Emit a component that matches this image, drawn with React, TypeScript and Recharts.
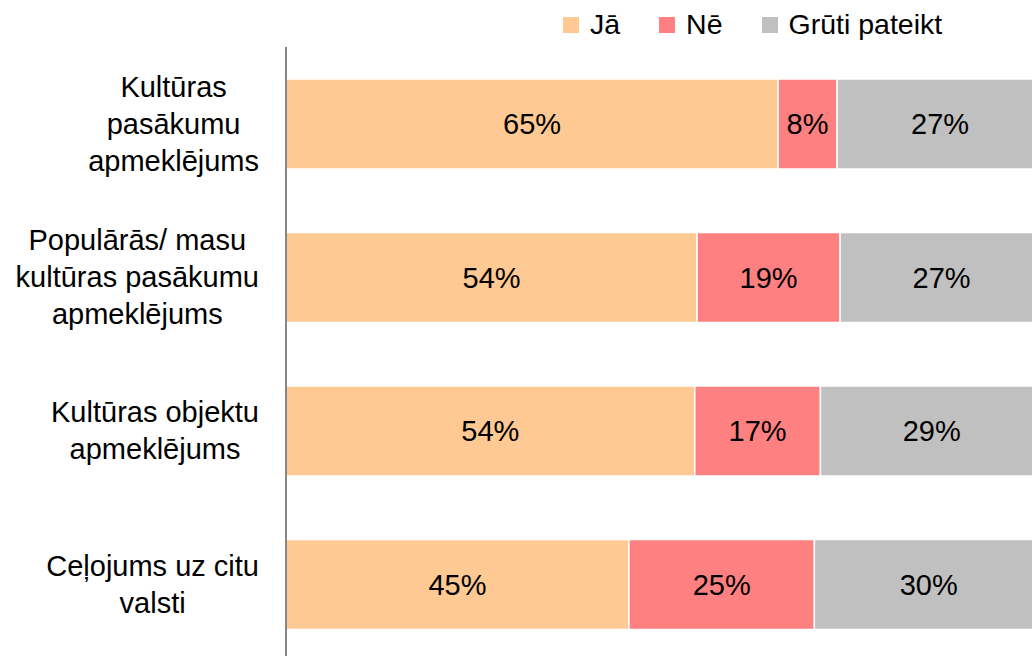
import { Bar, BarChart, LabelList, Legend, XAxis, YAxis } from 'recharts';

const FONT = '"Liberation Sans", Arial, sans-serif';
const COLORS = { yes: '#ffc993', no: '#ff8080', hard: '#c0c0c0' };

const categories = [
  ['Kultūras', 'pasākumu', 'apmeklējums'],
  ['Populārās/ masu', 'kultūras pasākumu', 'apmeklējums'],
  ['Kultūras objektu', 'apmeklējums'],
  ['Ceļojums uz citu', 'valsti'],
];
const seriesNames = ['Jā', 'Nē', 'Grūti pateikt'];
const yesValues = [65.0, 54.3, 54.0, 45.3];
const noValues = [7.8, 18.9, 16.6, 24.5];
const hardValues = [27.2, 26.8, 29.4, 30.2];

const data = categories.map((lines, i) => ({
  name: lines.join(' '),
  lines,
  yes: yesValues[i],
  no: noValues[i],
  hard: hardValues[i],
}));

let ctx: CanvasRenderingContext2D | null = null;
function textWidth(s: string) {
  if (!ctx) ctx = document.createElement('canvas').getContext('2d');
  if (!ctx) return s.length * 14;
  ctx.font = `29px ${FONT}`;
  return ctx.measureText(s).width;
}

function CategoryTick({ y, payload }: any) {
  const row = data.find((d) => d.name === payload.value);
  const lines = row ? row.lines : [String(payload.value)];
  const maxW = Math.max(...lines.map(textWidth));
  const cx = 259 - maxW / 2;
  const step = 37;
  const top = y - ((lines.length - 1) * step) / 2;
  return (
    <g>
      {lines.map((l, i) => (
        <text
          key={i}
          x={cx}
          y={top + i * step}
          textAnchor="middle"
          dominantBaseline="central"
          fontSize={29}
          fontFamily={FONT}
          fill="#000"
        >
          {l}
        </text>
      ))}
    </g>
  );
}

function LegendContent() {
  const cols = [COLORS.yes, COLORS.no, COLORS.hard];
  return (
    <div style={{ display: 'flex', alignItems: 'center', fontFamily: FONT, fontSize: 28.5, whiteSpace: 'nowrap' }}>
      {seriesNames.map((n, i) => (
        <div key={n} style={{ display: 'flex', alignItems: 'center', marginRight: 39 }}>
          <span style={{ display: 'inline-block', width: 16, height: 16, background: cols[i], marginRight: 11 }} />
          <span style={{ color: '#000' }}>{n}</span>
        </div>
      ))}
    </div>
  );
}

const pct = (v: any) => `${Math.round(Number(v))}%`;

export default function App() {
  return (
    <div style={{ position: 'fixed', left: 0, top: 0, width: 1032, height: 656, overflow: 'hidden', background: '#fff' }}>
      <BarChart
        width={1060}
        height={670}
        data={data}
        layout="vertical"
        margin={{ top: 47, right: 17, left: 0, bottom: 9 }}
        barSize={90}
      >
        <XAxis type="number" domain={[0, 100]} hide />
        <YAxis
          type="category"
          dataKey="name"
          width={286}
          axisLine={{ stroke: '#868686', strokeWidth: 2 }}
          tickLine={false}
          tick={<CategoryTick />}
          interval={0}
        />
        <Legend
          layout="horizontal"
          verticalAlign="middle"
          content={<LegendContent />}
          wrapperStyle={{ position: 'absolute', top: 8, left: 563, width: 'auto' }}
        />
        <Bar dataKey="yes" name={seriesNames[0]} stackId="a" fill={COLORS.yes} stroke="#fff" strokeWidth={1.5} isAnimationActive={false}>
          <LabelList dataKey="yes" position="center" formatter={pct} fill="#000" fontSize={29} fontFamily={FONT} />
        </Bar>
        <Bar dataKey="no" name={seriesNames[1]} stackId="a" fill={COLORS.no} stroke="#fff" strokeWidth={1.5} isAnimationActive={false}>
          <LabelList dataKey="no" position="center" formatter={pct} fill="#000" fontSize={29} fontFamily={FONT} />
        </Bar>
        <Bar dataKey="hard" name={seriesNames[2]} stackId="a" fill={COLORS.hard} stroke="#fff" strokeWidth={1.5} isAnimationActive={false}>
          <LabelList dataKey="hard" position="center" formatter={pct} fill="#000" fontSize={29} fontFamily={FONT} />
        </Bar>
      </BarChart>
    </div>
  );
}
